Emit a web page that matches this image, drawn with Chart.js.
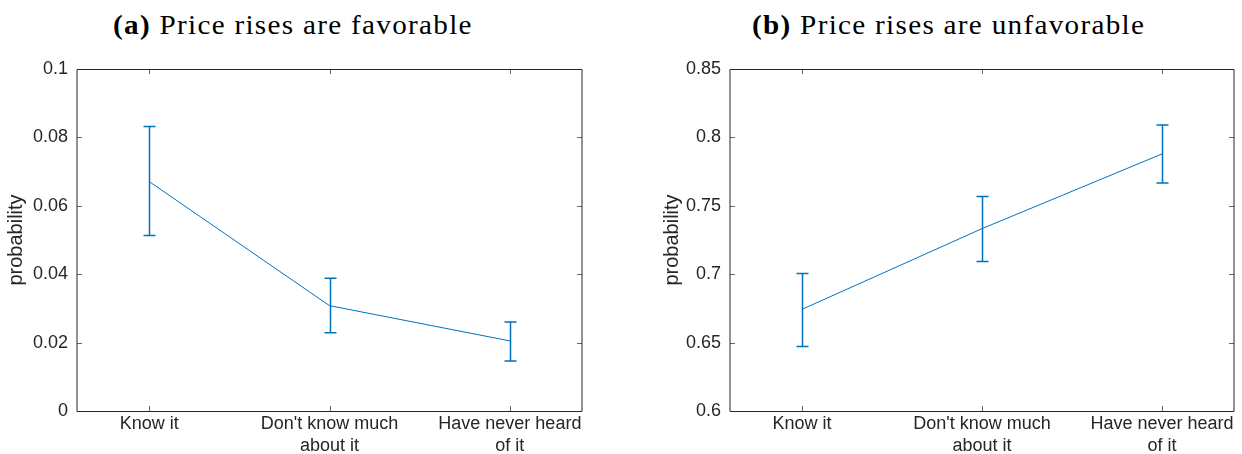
<!DOCTYPE html>
<html>
<head>
<meta charset="utf-8">
<script src="https://cdn.jsdelivr.net/npm/chart.js@4.4.0/dist/chart.umd.min.js"></script>
<style>
body { margin: 0; background: #fff; width: 1242px; height: 454px; overflow: hidden; position: relative; }
canvas { position: absolute; top: 0; }
.title { position: absolute; top: 12px; font-family: "Liberation Serif", serif; font-size: 27px; line-height: 27px; letter-spacing: 1.2px; transform: scaleX(1.08); transform-origin: left top; color: #000; white-space: nowrap; }
</style>
</head>
<body>
<div class="title" style="left:113px"><b>(a)</b> Price rises are favorable</div>
<div class="title" style="left:752px"><b>(b)</b> Price rises are unfavorable</div>
<canvas id="chartA" width="621" height="454" style="left:0"></canvas>
<canvas id="chartB" width="621" height="454" style="left:621px"></canvas>
<script>
var categories = [["Know it"], ["Don't know much", "about it"], ["Have never heard", "of it"]];

// (a) price rises are favorable
var favMean = [0.0671, 0.0308, 0.0205];
var favLow = [0.0513, 0.0229, 0.0146];
var favHigh = [0.0832, 0.0388, 0.0260];
var favTicks = [0, 0.02, 0.04, 0.06, 0.08, 0.1];

// (b) price rises are unfavorable
var unfavMean = [0.6743, 0.7333, 0.7879];
var unfavLow = [0.6471, 0.7092, 0.7667];
var unfavHigh = [0.7005, 0.7568, 0.8090];
var unfavTicks = [0.6, 0.65, 0.7, 0.75, 0.8, 0.85];

var lineColor = '#0072BD';
var axisColor = '#262626';

// error bars + matlab style box with inward ticks
var makeBoxPlugin = (low, high) => {
    return {
        id: 'matlabBox',
        afterDatasetsDraw(chart) {
            const ctx = chart.ctx;
            const a = chart.chartArea;
            const xs = chart.scales.x;
            const ys = chart.scales.y;
            ctx.save();

            ctx.strokeStyle = lineColor;
            ctx.lineWidth = 1.5;
            for (let i = 0; i < low.length; i++) {
                const px = Math.round(xs.getPixelForValue(i + 1)) + 0.5;
                const pLo = ys.getPixelForValue(low[i]);
                const pHi = ys.getPixelForValue(high[i]);
                ctx.beginPath();
                ctx.moveTo(px, pLo);
                ctx.lineTo(px, pHi);
                ctx.moveTo(px - 6, pLo);
                ctx.lineTo(px + 6, pLo);
                ctx.moveTo(px - 6, pHi);
                ctx.lineTo(px + 6, pHi);
                ctx.stroke();
            }

            ctx.lineWidth = 1;
            ctx.strokeStyle = '#666';
            ctx.beginPath();
            ys.ticks.forEach(t => {
                const py = Math.round(ys.getPixelForValue(t.value)) + 0.5;
                ctx.moveTo(a.left, py);
                ctx.lineTo(a.left + 5, py);
                ctx.moveTo(a.right, py);
                ctx.lineTo(a.right - 5, py);
            });
            xs.ticks.forEach(t => {
                const px = Math.round(xs.getPixelForValue(t.value)) + 0.5;
                ctx.moveTo(px, a.top);
                ctx.lineTo(px, a.top + 5);
                ctx.moveTo(px, a.bottom);
                ctx.lineTo(px, a.bottom - 5);
            });
            ctx.stroke();

            ctx.strokeStyle = axisColor;
            const l = Math.round(a.left), r = Math.round(a.right);
            const t = Math.round(a.top) + 0.5, b = Math.round(a.bottom) + 0.5;
            ctx.beginPath();
            ctx.moveTo(l, t);
            ctx.lineTo(r, t);
            ctx.moveTo(l, b);
            ctx.lineTo(r, b);
            ctx.moveTo(l, t);
            ctx.lineTo(l, b);
            ctx.moveTo(r, t);
            ctx.lineTo(r, b);
            ctx.stroke();
            ctx.restore();
        }
    };
}

var generateConfig = (means, low, high, yTicks, yWidth, padLeft, padRight) => {
    const points = [];
    for (let i = 0; i < means.length; i++) {
        points.push({ x: i + 1, y: means[i] });
    }
    return {
        type: 'line',
        data: {
            datasets: [{
                data: points,
                borderColor: lineColor,
                borderWidth: 1,
                pointRadius: 0,
                tension: 0,
                fill: false
            }]
        },
        options: {
            responsive: false,
            animation: false,
            devicePixelRatio: 1,
            layout: {
                padding: { top: 69, left: padLeft, right: padRight, bottom: 0 }
            },
            scales: {
                x: {
                    type: 'linear',
                    min: 0.6,
                    max: 3.4,
                    grid: { display: false, drawTicks: false },
                    border: { display: false },
                    afterBuildTicks: (scale) => {
                        scale.ticks = categories.map((c, i) => ({ value: i + 1 }));
                    },
                    afterFit: (scale) => { scale.height = 43; },
                    ticks: {
                        padding: 2,
                        maxRotation: 0,
                        autoSkip: false,
                        color: axisColor,
                        font: { family: 'Liberation Sans', size: 18, lineHeight: 1.22 },
                        callback: (v) => categories[v - 1]
                    }
                },
                y: {
                    type: 'linear',
                    min: yTicks[0],
                    max: yTicks[yTicks.length - 1],
                    grid: { display: false, drawTicks: false },
                    border: { display: false },
                    afterBuildTicks: (scale) => {
                        scale.ticks = yTicks.map(v => ({ value: v }));
                    },
                    afterFit: (scale) => { scale.width = yWidth; },
                    title: {
                        display: true,
                        text: 'probability',
                        color: axisColor,
                        padding: { top: 4, bottom: 0 },
                        font: { family: 'Liberation Sans', size: 20, lineHeight: 1.2 }
                    },
                    ticks: {
                        padding: 9,
                        color: axisColor,
                        font: { family: 'Liberation Sans', size: 18 },
                        callback: (v) => String(v)
                    }
                }
            },
            plugins: {
                legend: { display: false },
                tooltip: { enabled: false }
            }
        },
        plugins: [makeBoxPlugin(low, high)]
    };
}

new Chart(document.getElementById('chartA').getContext('2d'),
    generateConfig(favMean, favLow, favHigh, favTicks, 77, 0, 39));
new Chart(document.getElementById('chartB').getContext('2d'),
    generateConfig(unfavMean, unfavLow, unfavHigh, unfavTicks, 74, 35, 8));
</script>
</body>
</html>
